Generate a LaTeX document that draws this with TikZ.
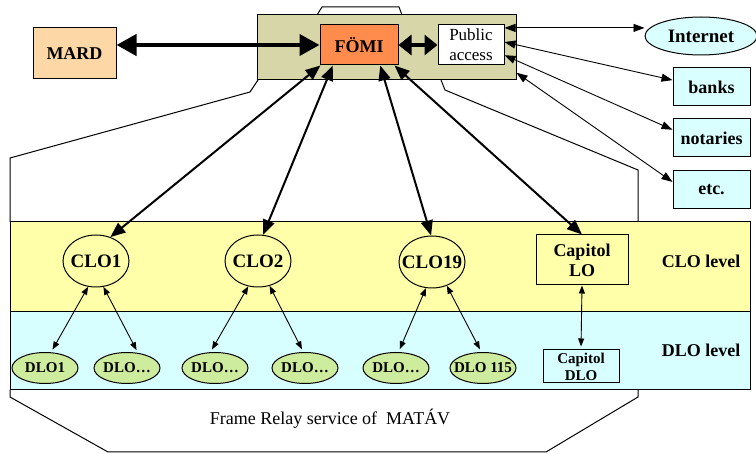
\documentclass[tikz,border=0pt]{standalone}
\usepackage{fontspec}
\setmainfont{Liberation Serif}
\usepackage{xcolor}
\usetikzlibrary{shapes.geometric,arrows.meta}
\colorlet{rim}{black}
\definecolor{mard area}{RGB}{253,215,165}
\definecolor{fomi area}{RGB}{255,140,76}
\definecolor{host area}{RGB}{214,214,168}
\definecolor{clo area}{RGB}{255,255,170}
\definecolor{dlo area}{RGB}{216,255,255}
\definecolor{leaf area}{RGB}{206,236,158}
\definecolor{user area}{RGB}{218,255,255}
\def\bigfont{\bfseries\fontsize{18}{20}\selectfont}
\def\smallfont{\bfseries\fontsize{15}{17}\selectfont}
\newcommand{\nowidth}[1]{\makebox[0pt]{#1}}
\def\upperrim{(10,222) -- (10,158) -- (250,92) -- (258,80)}
\def\toprim{(317,15) -- (322,7) -- (399,7) -- (402,15)}
\def\siderim{(441,80) -- (445,90) -- (638,170) -- (638,222)}
\def\lowerrim{(10,390) -- (10,397) -- (108,452) -- (546,452) -- (638,397) -- (638,390)}
\tikzset{office/.style={draw=rim, line width=1pt, inner sep=0pt, font=\bigfont, align=center},
    user/.style={office, fill=user area, minimum width=77pt, minimum height=38pt},
    hub/.style={office, ellipse, fill=clo area, minimum width=66pt, minimum height=52pt,
      font=\bfseries\fontsize{19}{21}\selectfont},
    leaf/.style={office, ellipse, fill=leaf area, minimum width=66pt, minimum height=31pt, font=\smallfont},
    heavy/.style={line width=4pt, {Triangle[length=20pt,width=21pt]}-{Triangle[length=20pt,width=21pt]}},
    stub/.style={line width=4pt, {Triangle[length=13pt,width=20pt]}-{Triangle[length=13pt,width=20pt]}},
    trunk/.style={line width=2pt, {Triangle[length=15pt,width=12pt]}-{Triangle[length=15pt,width=12pt]}},
    feed/.style={line width=0.9pt, {Triangle[length=11pt,width=8pt]}-{Triangle[length=11pt,width=8pt]}},
    twig/.style={line width=0.9pt, {Triangle[length=8pt,width=6pt]}-{Triangle[length=8pt,width=6pt]},
      shorten >=3pt}}

\begin{document}
\begin{tikzpicture}[x=1pt, y=-1pt]
    \useasboundingbox (0,0) rectangle (756,454);
    % levels
    \filldraw[fill=clo area, line width=1pt] (10,222) rectangle (750,312);
    \filldraw[fill=dlo area, line width=1pt] (10,312) rectangle (750,390);
    \draw[line width=1pt] \upperrim;
    \draw[line width=1pt] \toprim;
    \draw[line width=1pt] \siderim;
    \draw[line width=1pt] \lowerrim;
    \node[office, fill=host area, minimum width=259pt, minimum height=65pt] (hostbox) at (386.5,47.5) {};
    % top
    \node[office, fill=mard area, minimum width=83pt, minimum height=51pt] (mard) at (74.5,53.5) {MARD};
    \node[office, fill=fomi area, minimum width=78pt, minimum height=40pt] (fomi) at (359,45) {FÖMI};
    \node[office, fill=white, minimum width=66pt, minimum height=40pt, font=\fontsize{17}{20}\selectfont]
      (public) at (471,45) {Public\\access};
    \node[office, ellipse, fill=user area, minimum width=112pt, minimum height=38pt, font=\bfseries\fontsize{19}{21}\selectfont]
      (internet) at (701,36) {\nowidth{Internet}};
    \node[user] (banks) at (711.5,87) {banks};
    \node[user] (notaries) at (711.5,138) {notaries};
    \node[user] (etc) at (711.5,189.5) {etc.};
    % CLO level
    \node[hub] (clo1) at (96,261) {\nowidth{CLO1}};
    \node[hub] (clo2) at (258,261) {\nowidth{CLO2}};
    \node[hub] (clo19) at (432,262) {\nowidth{CLO19}};
    \node[office, minimum width=92pt, minimum height=50pt] (capitol) at (582,260) {Capitol\\LO};
    \node[font=\bigfont] (clolevel) at (701,261) {CLO level};
    % DLO level
    \node[leaf] (dlo1) at (45,368) {\nowidth{DLO1}};
    \node[leaf] (dlo2) at (127,368) {\nowidth{DLO\dots}};
    \node[leaf] (dlo3) at (215,368) {\nowidth{DLO\dots}};
    \node[leaf] (dlo4) at (305,368) {\nowidth{DLO\dots}};
    \node[leaf] (dlo5) at (396,368) {\nowidth{DLO\dots}};
    \node[leaf] (dlo115) at (483,368) {\nowidth{DLO 115}};
    \node[office, fill=dlo area, minimum width=76pt, minimum height=33pt, font=\smallfont]
      (capitoldlo) at (581,366.5) {Capitol\\DLO};
    \node[font=\bigfont] (dlolevel) at (701,350) {DLO level};
    \node[font=\fontsize{18}{20}\selectfont] (relay) at (330,419) {Frame Relay service of~ MATÁV};
    % links
    \draw[heavy] (fomi.west) -- (fomi.west -| mard.east);
    \draw[stub] (fomi) -- (public);
    \draw[trunk] (fomi.208) -- (clo1.59);
    \draw[trunk] (fomi.218) -- (clo2.79);
    \draw[trunk] (fomi.316) -- (clo19.92);
    \draw[trunk] (fomi.330) -- (capitol.north);
    \draw[feed] (public.27) -- (public.27 -| internet.west);
    \draw[feed] (public.5) -- (banks.170);
    \draw[feed] (public.-17) -- (notaries.168);
    \draw[feed] (hostbox.-11) -- (etc.169);
    \draw[twig] (clo1.253) -- (dlo1.69);
    \draw[twig] (clo1.286) -- (dlo2.54);
    \draw[twig] (clo2.249) -- (dlo3.106);
    \draw[twig] (clo2.295) -- (dlo4.96);
    \draw[twig] (clo19.257) -- (dlo5.81);
    \draw[twig] (clo19.302) -- (dlo115.96);
    \draw[twig] (capitol.south) -- (capitoldlo.north);
\end{tikzpicture}
\end{document}
